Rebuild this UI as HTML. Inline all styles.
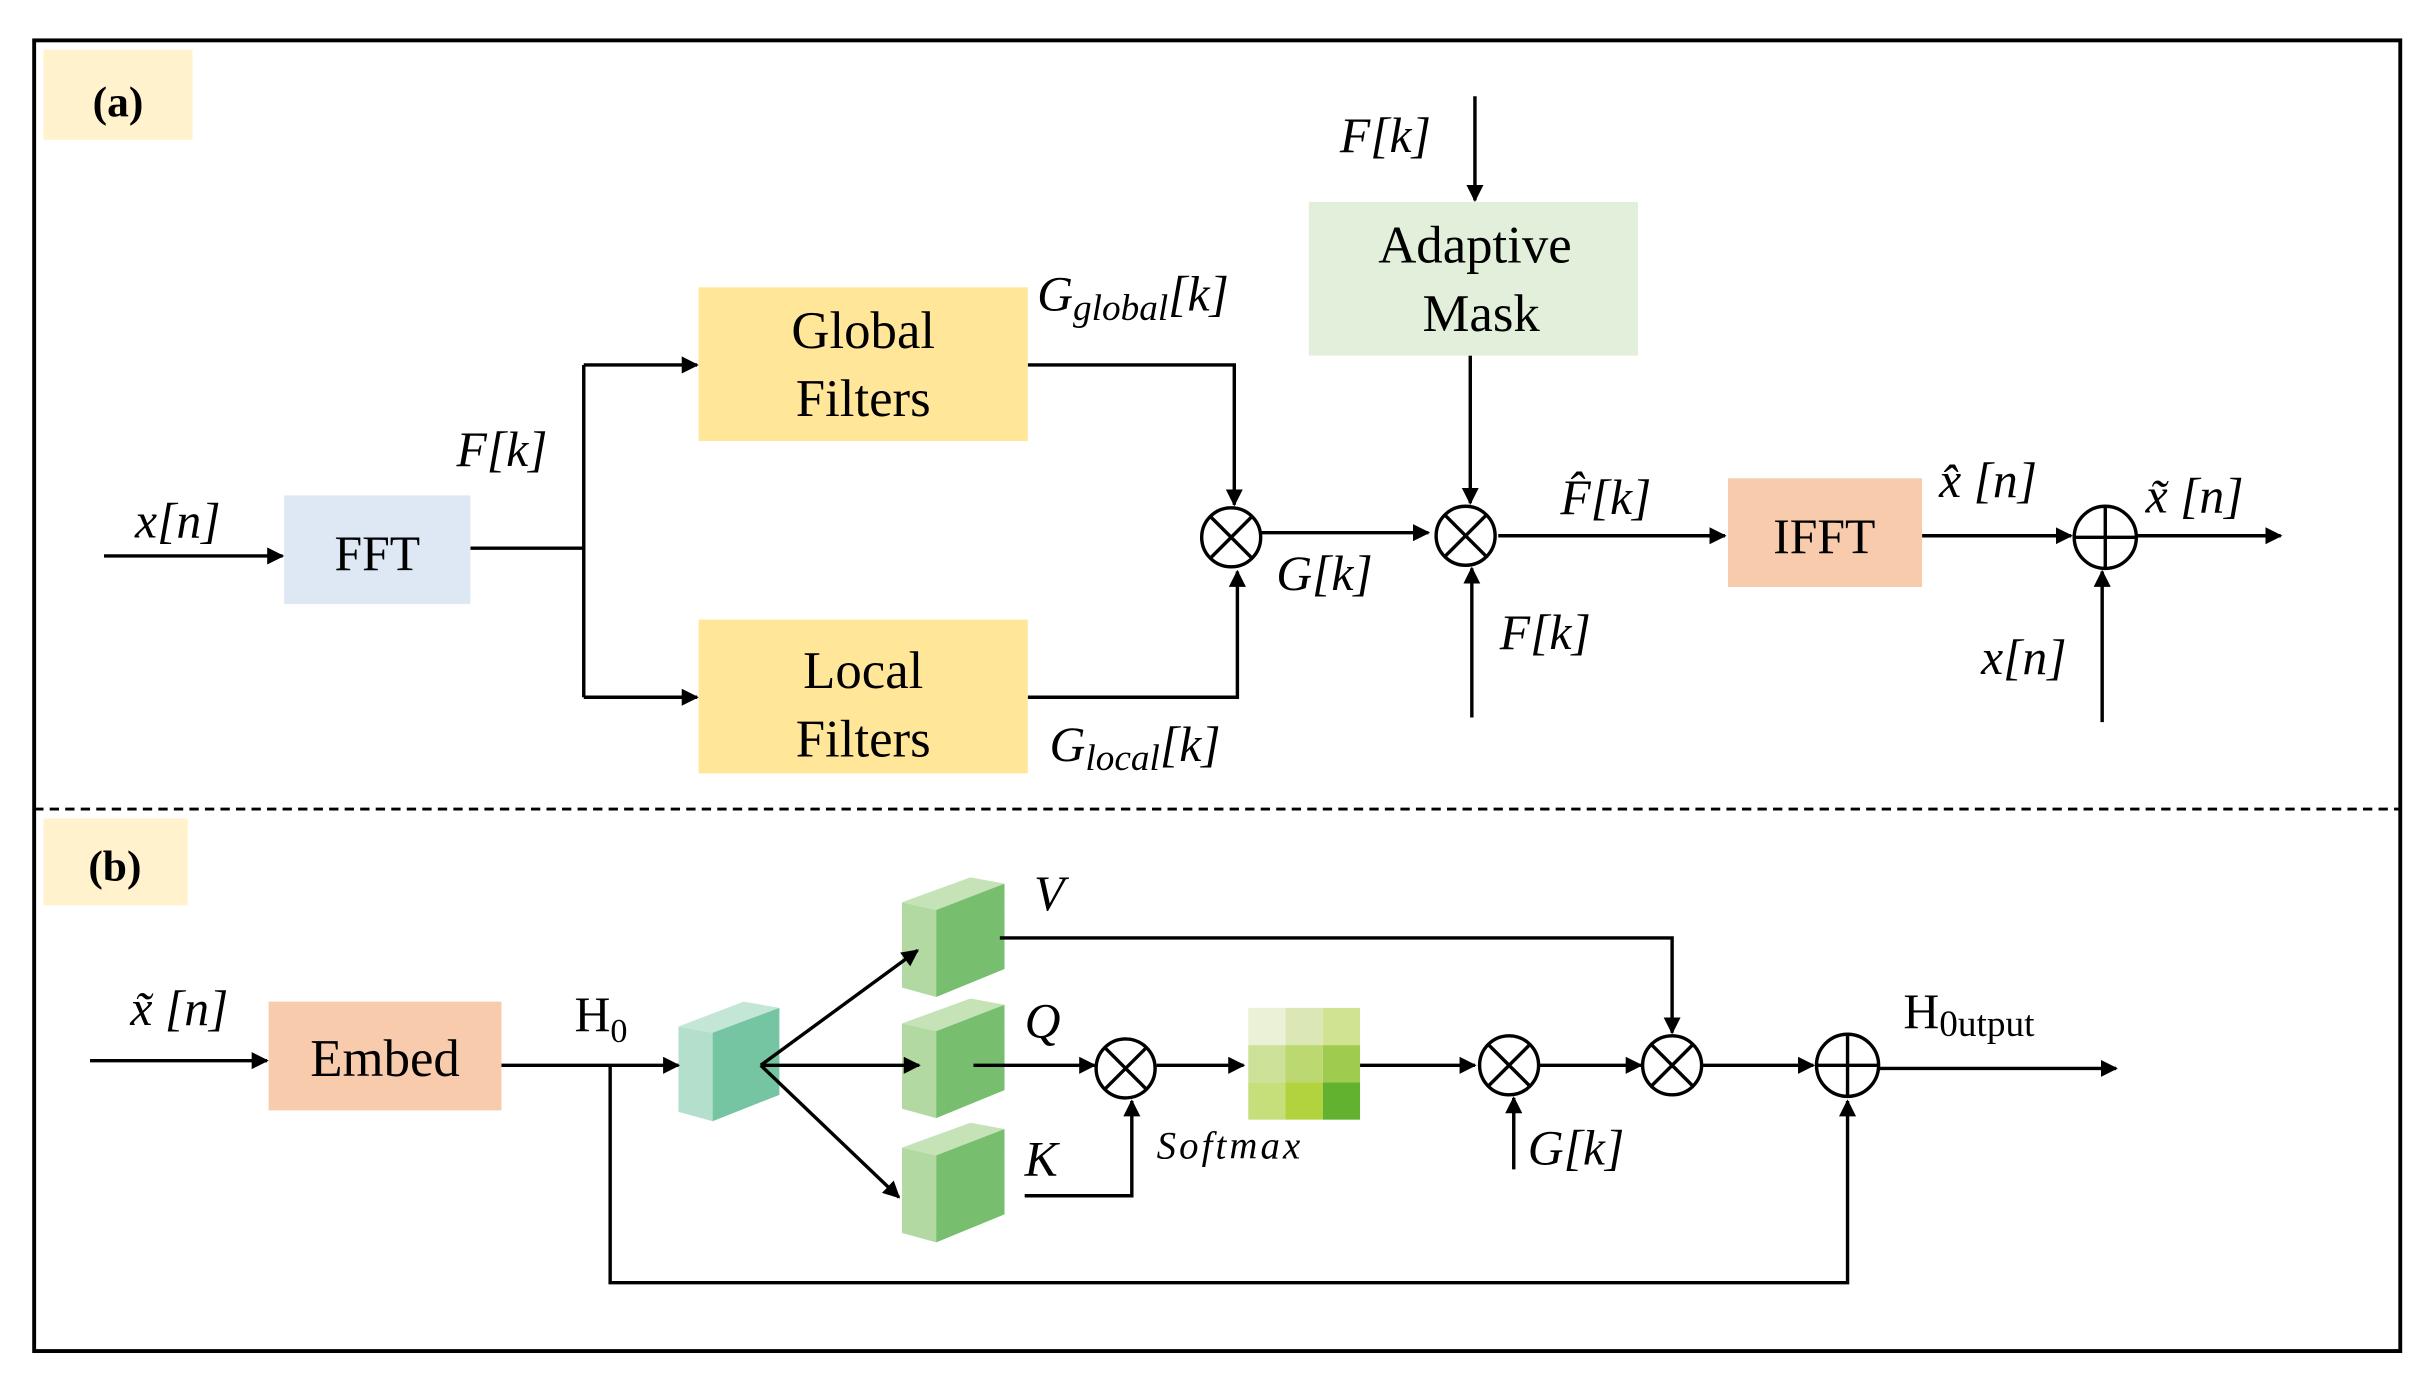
<!DOCTYPE html>
<html><head><meta charset="utf-8"><style>html,body{margin:0;padding:0;background:#fff}svg{display:block}</style></head>
<body>
<svg width="2422" height="1379" viewBox="0 0 1560 888" preserveAspectRatio="none" xmlns="http://www.w3.org/2000/svg" font-family="Liberation Serif, serif">
<defs>
<marker id="b" viewBox="0 0 10 10" refX="9" refY="5" markerWidth="11" markerHeight="11" orient="auto" markerUnits="userSpaceOnUse"><path d="M0,0 L10,5 L0,10 z" fill="#000"/></marker>
</defs>
<rect x="22" y="26" width="1524" height="844" fill="none" stroke="#000" stroke-width="2.5"/>
<line x1="22" y1="521" x2="1546" y2="521" stroke="#000" stroke-width="1.8" stroke-dasharray="6,4"/>
<rect x="28" y="32" width="96" height="58" fill="#fff2cc"/>
<text x="76" y="75" font-size="28" font-weight="bold" text-anchor="middle">(a)</text>
<rect x="28" y="527" width="93" height="56" fill="#fff2cc"/>
<text x="74" y="567" font-size="28" font-weight="bold" text-anchor="middle">(b)</text>

<!-- teal block -->
<polygon points="437,661 459,665 459,722 437,716" fill="#b3dfcc"/>
<polygon points="437,661 479,645 502,649 459,665" fill="#c4e6d6"/>
<polygon points="459,665 502,649 502,705 459,722" fill="#75c4a2"/>
<!-- V Q K -->
<g id="v">
<polygon points="581,581 603,586 603,642 581,636" fill="#b3d9a3"/>
<polygon points="581,581 625,565 647,569 603,586" fill="#c5e3b6"/>
<polygon points="603,586 647,569 647,624 603,642" fill="#77bf6e"/>
</g>
<use href="#v" y="78"/>
<use href="#v" y="158"/>

<g fill="none" stroke="#000" stroke-width="2.2">
<!-- (a) -->
<line x1="67" y1="358" x2="182" y2="358" marker-end="url(#b)"/>
<polyline points="303,353 376,353"/>
<polyline points="376,235 376,449"/>
<line x1="376" y1="235" x2="449" y2="235" marker-end="url(#b)"/>
<line x1="376" y1="449" x2="449" y2="449" marker-end="url(#b)"/>
<polyline points="662,235 795,235 795,325" marker-end="url(#b)"/>
<polyline points="662,449 797,449 797,368" marker-end="url(#b)"/>
<circle cx="793" cy="346" r="19"/>
<line x1="812" y1="343" x2="920" y2="343" marker-end="url(#b)"/>
<circle cx="944" cy="345" r="19"/>
<line x1="950" y1="62" x2="950" y2="129" marker-end="url(#b)"/>
<line x1="947" y1="229" x2="947" y2="324" marker-end="url(#b)"/>
<line x1="948" y1="462" x2="948" y2="366" marker-end="url(#b)"/>
<line x1="965" y1="345" x2="1111" y2="345" marker-end="url(#b)"/>
<line x1="1238" y1="345" x2="1334" y2="345" marker-end="url(#b)"/>
<circle cx="1356" cy="346" r="20"/>
<line x1="1354" y1="465" x2="1354" y2="368" marker-end="url(#b)"/>
<line x1="1376" y1="345" x2="1469" y2="345" marker-end="url(#b)"/>
<!-- (b) -->
<line x1="58" y1="683" x2="172" y2="683" marker-end="url(#b)"/>
<line x1="323" y1="686" x2="437" y2="686" marker-end="url(#b)"/>
<polyline points="393,686 393,826 1190,826 1190,709" marker-end="url(#b)"/>
<line x1="490" y1="686" x2="591" y2="612" marker-end="url(#b)"/>
<line x1="490" y1="686" x2="592" y2="686" marker-end="url(#b)"/>
<line x1="490" y1="686" x2="579" y2="771" marker-end="url(#b)"/>
<line x1="627" y1="686" x2="705" y2="686" marker-end="url(#b)"/>
<circle cx="725" cy="688" r="19"/>
<polyline points="660,770 729,770 729,709" marker-end="url(#b)"/>
<line x1="745" y1="686" x2="801" y2="686" marker-end="url(#b)"/>
<line x1="876" y1="686" x2="950" y2="686" marker-end="url(#b)"/>
<circle cx="972" cy="686" r="19"/>
<line x1="975" y1="753" x2="975" y2="707" marker-end="url(#b)"/>
<line x1="991" y1="686" x2="1057" y2="686" marker-end="url(#b)"/>
<circle cx="1077" cy="686" r="19"/>
<polyline points="644,604 1077,604 1077,665" marker-end="url(#b)"/>
<line x1="1096" y1="686" x2="1168" y2="686" marker-end="url(#b)"/>
<circle cx="1190" cy="686" r="20"/>
<line x1="1210" y1="688" x2="1363" y2="688" marker-end="url(#b)"/>
</g>
<g stroke="#000" stroke-width="2.2">
<line x1="780" y1="333" x2="806" y2="359"/><line x1="806" y1="333" x2="780" y2="359"/>
<line x1="931" y1="332" x2="957" y2="358"/><line x1="957" y1="332" x2="931" y2="358"/>
<line x1="712" y1="675" x2="738" y2="701"/><line x1="738" y1="675" x2="712" y2="701"/>
<line x1="959" y1="673" x2="985" y2="699"/><line x1="985" y1="673" x2="959" y2="699"/>
<line x1="1064" y1="673" x2="1090" y2="699"/><line x1="1090" y1="673" x2="1064" y2="699"/>
<line x1="1336" y1="346" x2="1376" y2="346"/><line x1="1356" y1="326" x2="1356" y2="366"/>
<line x1="1170" y1="686" x2="1210" y2="686"/><line x1="1190" y1="666" x2="1190" y2="706"/>
</g>

<rect x="183" y="319" width="120" height="70" fill="#dde8f4"/>
<text x="243" y="367" font-size="32" text-anchor="middle">FFT</text>
<rect x="450" y="185" width="212" height="99" fill="#ffe699"/>
<text x="556" y="224" font-size="34" text-anchor="middle">Global</text>
<text x="556" y="268" font-size="34" text-anchor="middle">Filters</text>
<rect x="450" y="399" width="212" height="99" fill="#ffe699"/>
<text x="556" y="443" font-size="34" text-anchor="middle">Local</text>
<text x="556" y="487" font-size="34" text-anchor="middle">Filters</text>
<rect x="843" y="130" width="212" height="99" fill="#e2efda"/>
<text x="950" y="169" font-size="34" text-anchor="middle">Adaptive</text>
<text x="954" y="213" font-size="34" text-anchor="middle">Mask</text>
<rect x="1113" y="308" width="125" height="70" fill="#f8cbad"/>
<text x="1175" y="356" font-size="32" text-anchor="middle">IFFT</text>

<g font-size="32" font-style="italic">
<text x="87" y="346">x[n]</text>
<text x="294" y="300">F[k]</text>
<text x="668" y="200">G<tspan font-size="24" dy="6">global</tspan><tspan dy="-6">[k]</tspan></text>
<text x="676" y="490">G<tspan font-size="24" dy="6">local</tspan><tspan dy="-6">[k]</tspan></text>
<text x="822" y="380">G[k]</text>
<text x="863" y="98">F[k]</text>
<text x="966" y="418">F[k]</text>
<text x="1005" y="331">F̂[k]</text>
<text x="1249" y="320">x̂ [n]</text>
<text x="1382" y="330">x̃ [n]</text>
<text x="1276" y="434">x[n]</text>
</g>

<rect x="173" y="645" width="150" height="70" fill="#f8cbad"/>
<text x="248" y="693" font-size="34" text-anchor="middle">Embed</text>
<g font-size="32" font-style="italic">
<text x="84" y="660">x̃ [n]</text>
<text x="666" y="586">V</text>
<text x="660" y="668">Q</text>
<text x="660" y="757">K</text>
<text x="984" y="750">G[k]</text>
<text x="745" y="746" font-size="25" letter-spacing="2">Softmax</text>
</g>
<text x="370" y="664" font-size="32">H<tspan font-size="22" dy="7">0</tspan></text>
<text x="1226" y="662" font-size="32">H<tspan font-size="24" dy="5">0utput</tspan></text>

<rect x="804" y="649" width="24" height="24" fill="#ebf1d6"/>
<rect x="828" y="649" width="24" height="24" fill="#dbe8b5"/>
<rect x="852" y="649" width="24" height="24" fill="#cfe393"/>
<rect x="804" y="673" width="24" height="24" fill="#cde198"/>
<rect x="828" y="673" width="24" height="24" fill="#bcd870"/>
<rect x="852" y="673" width="24" height="24" fill="#9fcb4e"/>
<rect x="804" y="697" width="24" height="24" fill="#c5df7a"/>
<rect x="828" y="697" width="24" height="24" fill="#b3d33e"/>
<rect x="852" y="697" width="24" height="24" fill="#62b22f"/>
</svg>
</body></html>
